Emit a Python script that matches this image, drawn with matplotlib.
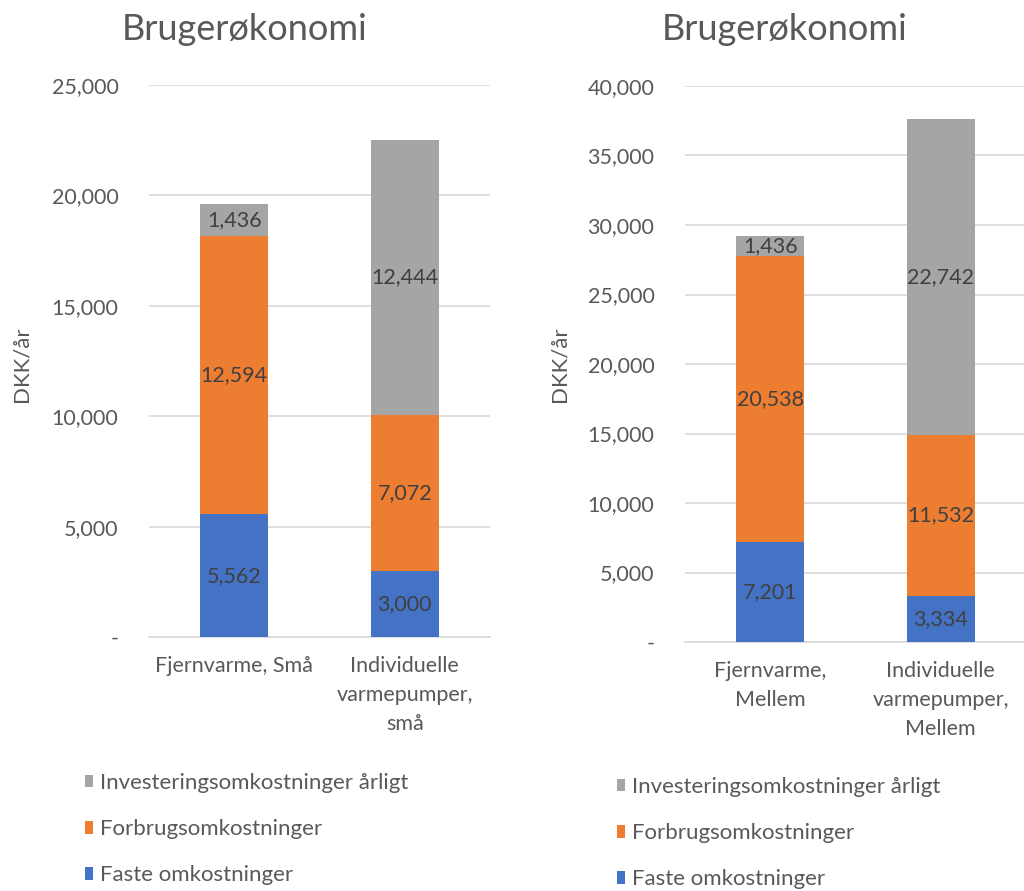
import matplotlib
matplotlib.use("Agg")
import matplotlib.pyplot as plt
from matplotlib.ticker import FuncFormatter, MultipleLocator
from matplotlib.patches import Patch

plt.rcParams['font.family'] = ['Lato', 'DejaVu Sans']

series_names = ["Faste omkostninger", "Forbrugsomkostninger", "Investeringsomkostninger årligt"]
colors = ["#4472C4", "#ED7D31", "#A5A5A5"]

left_categories = ["Fjernvarme, Små", "Individuelle\nvarmepumper,\nsmå"]
left_faste = [5562, 3000]
left_forbrug = [12594, 7072]
left_invest = [1436, 12444]

right_categories = ["Fjernvarme,\nMellem", "Individuelle\nvarmepumper,\nMellem"]
right_faste = [7201, 3334]
right_forbrug = [20538, 11532]
right_invest = [1436, 22742]

title = "Brugerøkonomi"
ylabel = "DKK/år"

W, H = 1024, 891
fig = plt.figure(figsize=(W / 100, H / 100), dpi=100)

FS = 15.5

def fmt(v, pos):
    return "-" if abs(v) < 1e-9 else f"{v:,.0f}"

def draw(rect, cats, faste, forbrug, invest, ymax, step, title_x, ylabel_x, ypad, legend_xy):
    ax = fig.add_axes(rect)
    x = list(range(len(cats)))
    bottom = [0] * len(cats)
    for vals, c, name in zip([faste, forbrug, invest], colors, series_names):
        bars = ax.bar(x, vals, width=0.4, bottom=bottom, color=c, label=name, zorder=3)
        ax.bar_label(bars, labels=[f"{v:,.0f}" for v in vals], label_type='center',
                     color="#404040", fontsize=FS)
        bottom = [b + v for b, v in zip(bottom, vals)]
    ax.set_xlim(-0.5, len(cats) - 0.5)
    ax.set_ylim(0, ymax)
    ax.yaxis.set_major_locator(MultipleLocator(step))
    ax.yaxis.set_major_formatter(FuncFormatter(fmt))
    ax.grid(axis='y', color="#D9D9D9", linewidth=1.2, zorder=0)
    for s in ['top', 'right', 'left']:
        ax.spines[s].set_visible(False)
    ax.spines['bottom'].set_color("#D9D9D9")
    ax.spines['bottom'].set_linewidth(1.2)
    ax.tick_params(axis='both', length=0, colors="#595959", labelsize=FS)
    ax.tick_params(axis='y', pad=ypad)
    ax.tick_params(axis='x', pad=14)
    ax.set_xticks(x)
    ax.set_xticklabels(cats, linespacing=1.55)
    fig.text(title_x / W, 1 - 30 / H, title, ha='center', va='center',
             fontsize=26, color="#595959")
    fig.text(ylabel_x / W, 1 - 364 / H, ylabel, rotation=90, ha='center', va='center',
             fontsize=16, color="#595959")
    lh = [Patch(facecolor=c) for c in colors][::-1]
    fig.legend(lh, series_names[::-1], loc='upper left',
               bbox_to_anchor=(legend_xy[0] / W, 1 - legend_xy[1] / H),
               frameon=False, fontsize=16, labelcolor="#595959",
               handlelength=0.37, handleheight=0.5, handletextpad=0.3,
               labelspacing=1.18, borderaxespad=0, borderpad=0)
    return ax

draw([149 / W, 1 - 637 / H, 341 / W, 552 / H], left_categories,
     left_faste, left_forbrug, left_invest, 25000, 5000, 245, 22, 22, (85, 773))
draw([685 / W, 1 - 642 / H, 341 / W, 556 / H], right_categories,
     right_faste, right_forbrug, right_invest, 40000, 5000, 785, 560, 22, (617, 777))

fig.savefig("out.png", dpi=100)
